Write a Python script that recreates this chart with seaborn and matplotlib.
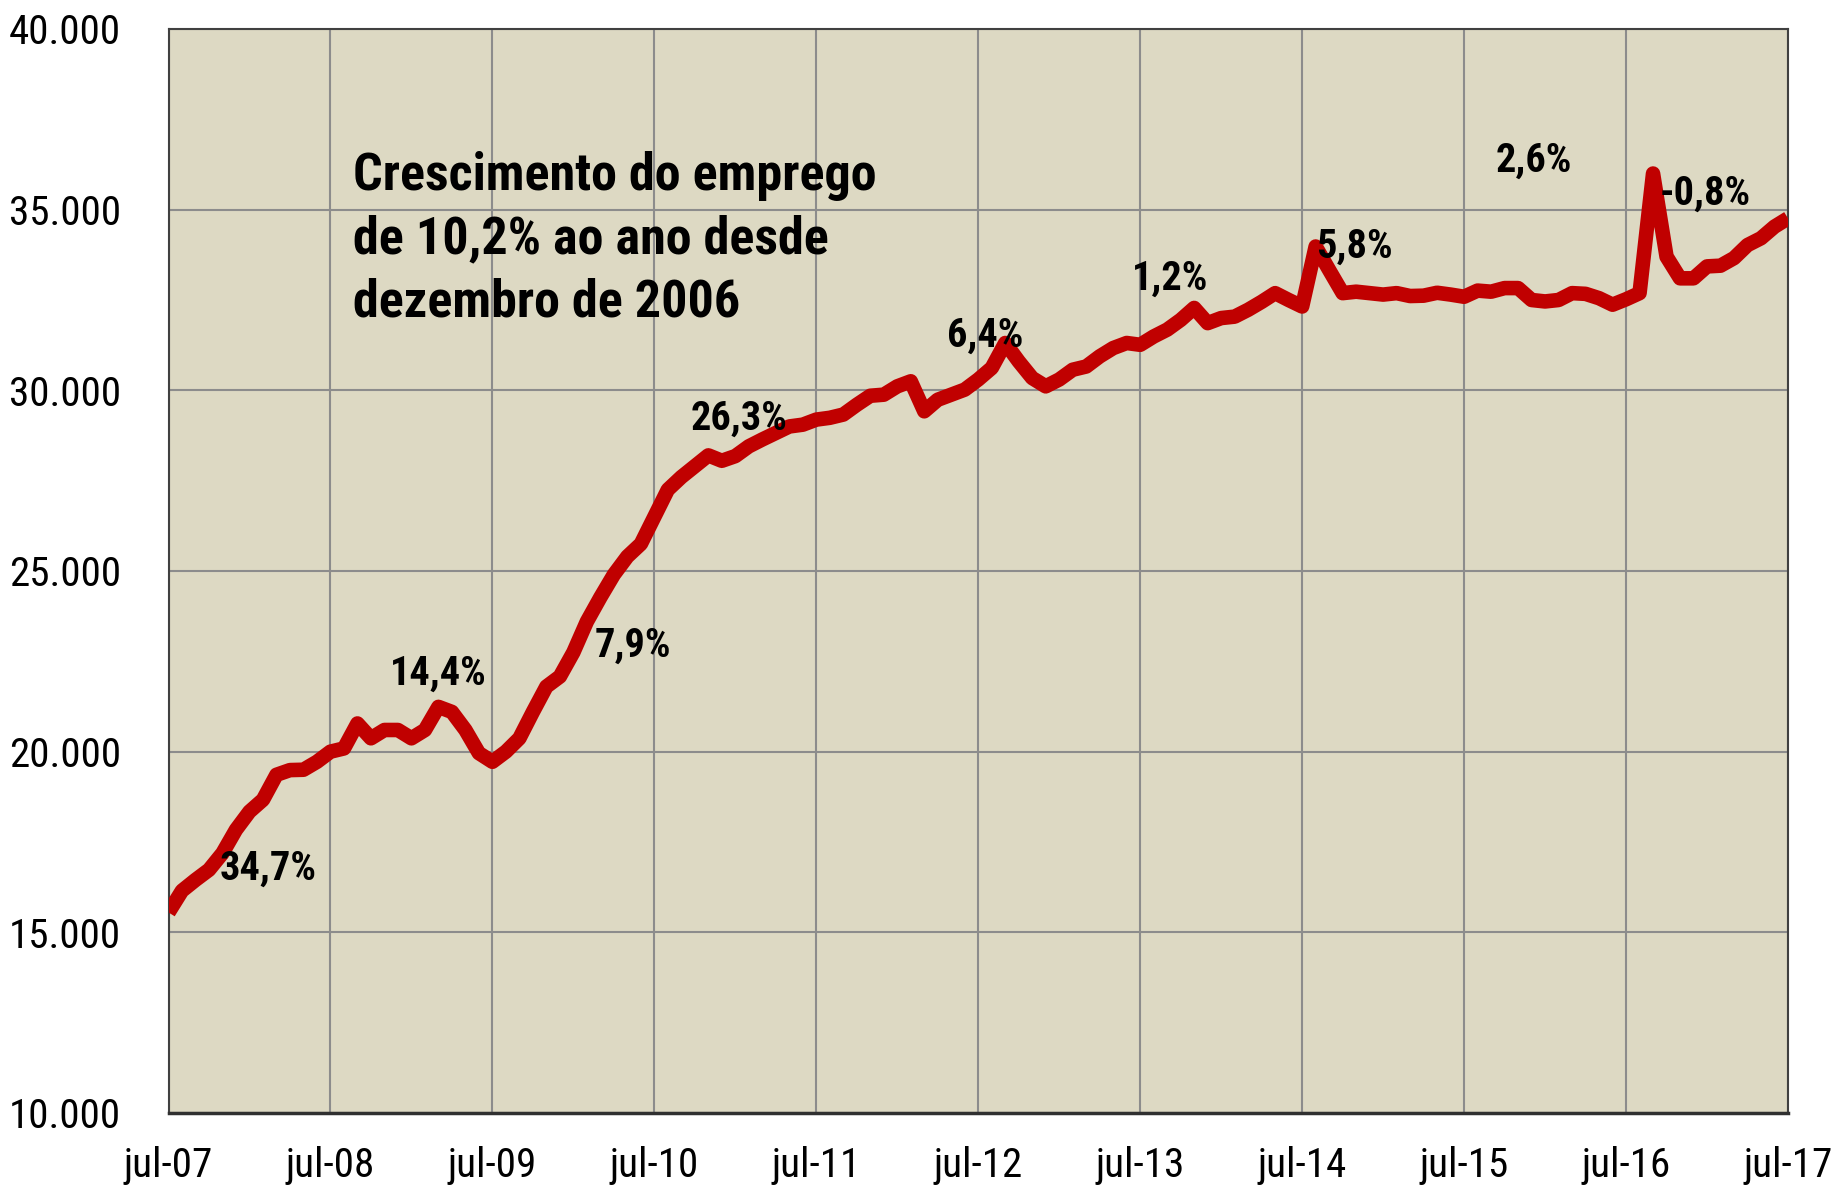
import matplotlib
matplotlib.use("Agg")
import matplotlib.pyplot as plt
import seaborn as sns
import numpy as np
import pandas as pd

# ---------------- data ----------------
employment = [
    15550, 16150, 16450, 16730, 17190, 17840, 18340, 18670, 19360, 19490,
    19500, 19720, 20000, 20090, 20780, 20370, 20600, 20600, 20370, 20600,
    21240, 21100, 20600, 19960, 19720, 20000, 20370, 21100, 21800, 22080,
    22750, 23600, 24270, 24900, 25400, 25750, 26500, 27250, 27600, 27900,
    28200, 28050, 28180, 28450, 28640, 28820, 29000, 29050, 29190, 29240,
    29330, 29600, 29850, 29880, 30110, 30250, 29420, 29740, 29880, 30020,
    30300, 30620, 31310, 30800, 30340, 30110, 30300, 30570, 30660, 30940,
    31170, 31310, 31260, 31490, 31680, 31950, 32280, 31860, 32000, 32040,
    32230, 32450, 32690, 32500, 32320, 33980, 33330, 32690, 32730, 32690,
    32650, 32690, 32610, 32620, 32700, 32650, 32590, 32760, 32730, 32830,
    32830, 32500, 32460, 32500, 32690, 32670, 32550, 32370, 32520, 32690,
    36000, 33700, 33100, 33100, 33430, 33450, 33660, 34020, 34210, 34530,
    34760,
]
month_index = list(range(len(employment)))

x_tick_months = [0, 12, 24, 36, 48, 60, 72, 84, 96, 108, 120]
x_tick_labels = ["jul-07", "jul-08", "jul-09", "jul-10", "jul-11", "jul-12",
                 "jul-13", "jul-14", "jul-15", "jul-16", "jul-17"]
y_ticks = [10000, 15000, 20000, 25000, 30000, 35000, 40000]
y_tick_labels = ["10.000", "15.000", "20.000", "25.000", "30.000", "35.000", "40.000"]

growth_labels = ["34,7%", "14,4%", "7,9%", "26,3%", "6,4%", "1,2%", "5,8%", "2,6%", "-0,8%"]
growth_label_month = [3.82, 16.42, 31.6, 38.66, 57.7, 71.4, 85.0, 98.3, 110.5]
growth_label_value = [16461, 21857, 22640, 28913, 31218, 32786, 33663, 36060, 35138]

headline_lines = ["Crescimento do emprego", "de 10,2% ao ano desde", "dezembro de 2006"]
headline_month = 13.69
headline_values = [35551, 33802, 32048]

# ---------------- style ----------------
sns.set_theme(style="white")
plt.rcParams["font.family"] = ["Roboto Condensed", "DejaVu Sans"]

RED = "#C00000"
BG = "#DDD9C3"
GRID = "#8C8C8C"

df = pd.DataFrame({"month": month_index, "employment": employment})

fig = plt.figure(figsize=(18.35, 11.91), dpi=100)
ax = fig.add_axes([168.5 / 1835, 1 - 1113 / 1191, (1788 - 168.5) / 1835, (1113 - 29) / 1191])
ax.set_facecolor(BG)

sns.lineplot(data=df, x="month", y="employment", ax=ax, color=RED,
             linewidth=10.5, solid_joinstyle="round", solid_capstyle="butt", zorder=3)

ax.set_xlim(0, 120)
ax.set_ylim(10000, 40000)
ax.set_xticks(x_tick_months)
ax.set_xticklabels(x_tick_labels)
ax.set_yticks(y_ticks)
ax.set_yticklabels(y_tick_labels)
ax.set_xlabel("")
ax.set_ylabel("")
ax.grid(True, color=GRID, linewidth=1.5, zorder=1)
ax.set_axisbelow(True)
ax.tick_params(axis="both", length=0, labelsize=29.5, colors="black")
ax.tick_params(axis="x", pad=24)
ax.tick_params(axis="y", pad=34)

for side in ["left", "top", "right"]:
    ax.spines[side].set_color("#404040")
    ax.spines[side].set_linewidth(1.5)
ax.spines["bottom"].set_color("#303030")
ax.spines["bottom"].set_linewidth(2.5)

for lab, mx, vy in zip(growth_labels, growth_label_month, growth_label_value):
    ax.text(mx, vy, lab, ha="left", va="baseline", fontsize=29,
            fontweight="bold", color="black", zorder=4)

for line, vy in zip(headline_lines, headline_values):
    ax.text(headline_month, vy, line, ha="left", va="baseline", fontsize=37.5,
            fontweight="bold", color="black", zorder=4)

fig.savefig("out.png", dpi=100)
